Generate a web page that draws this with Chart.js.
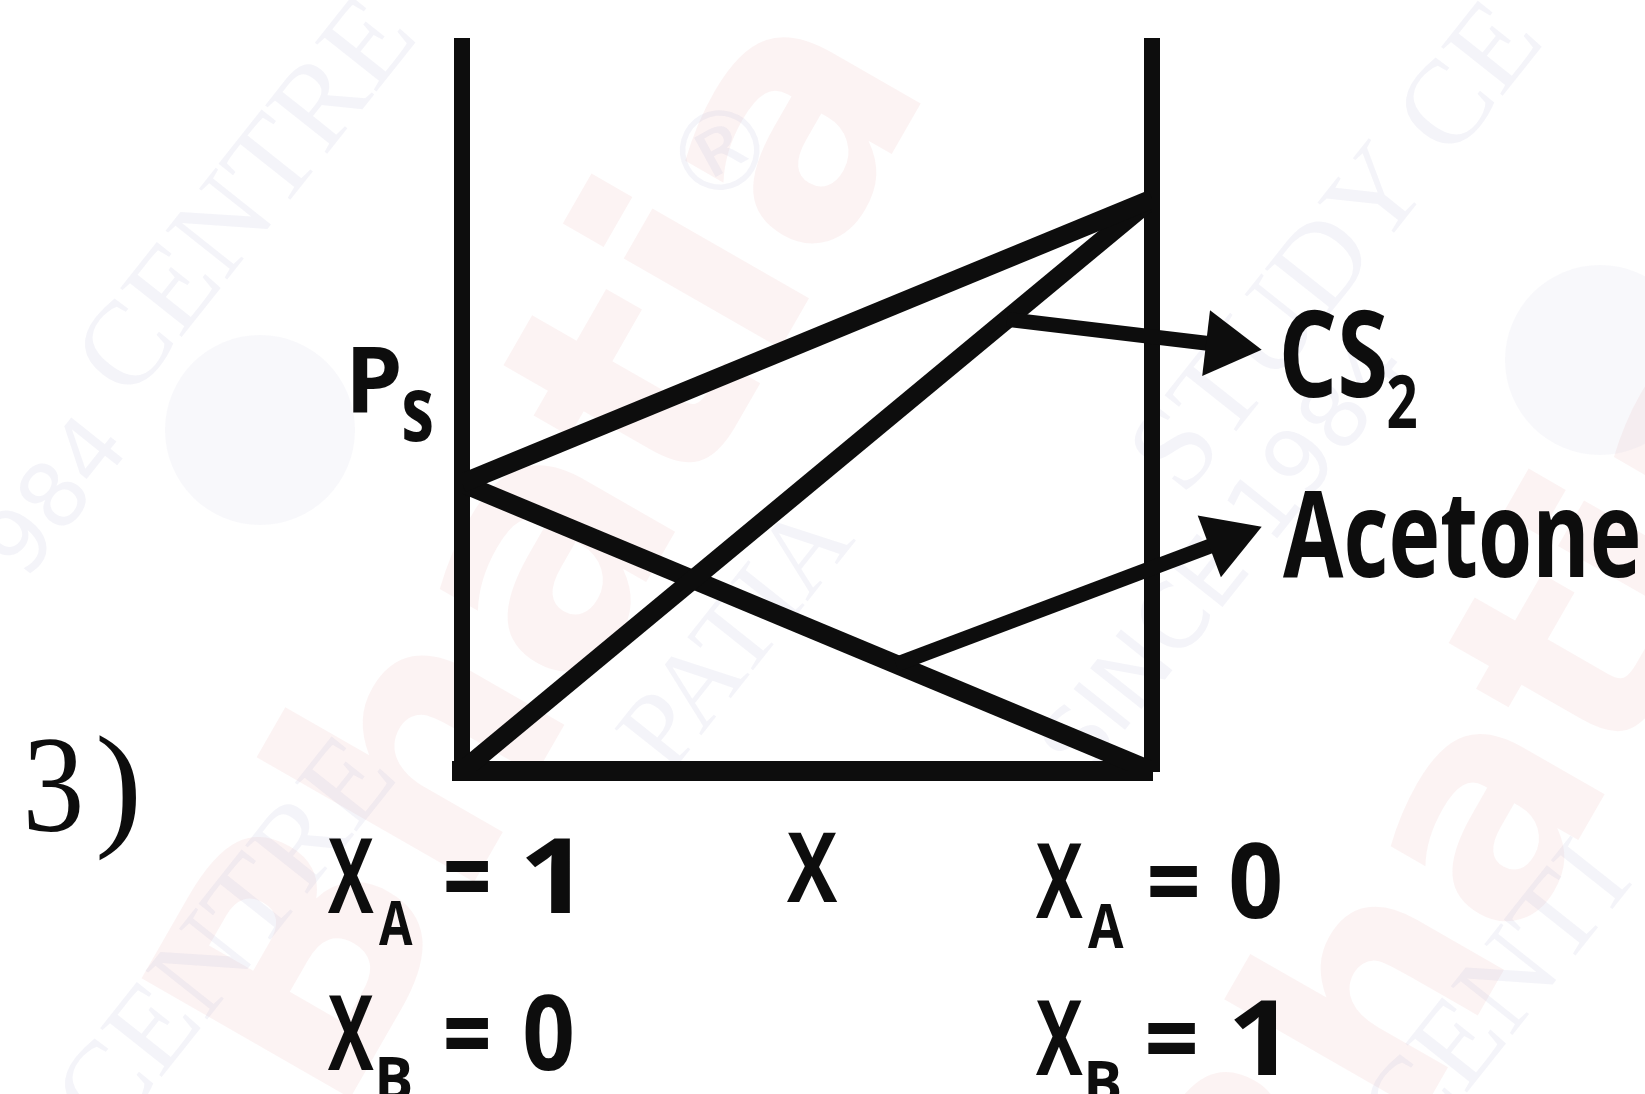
<!DOCTYPE html>
<html>
<head>
<meta charset="utf-8">
<script src="https://cdn.jsdelivr.net/npm/chart.js@4"></script>
<style>
  html, body { margin: 0; padding: 0; background: #fff; }
  canvas { display: block; }
</style>
</head>
<body>
<canvas id="vpChart" width="1645" height="1094"></canvas>
<script>
// mole fraction of B (CS2) along the x axis: X_A = 1 on the left, X_A = 0 on the right
const xB = [0, 1];
// vapour pressures (arbitrary units) at the two ends
const totalP = [39.7, 78.9];
const cs2P = [0, 78.9];
const acetoneP = [39.7, 0];

// arrow annotations: start on a line, tip next to the label
const arrowFrom = [[0.790, 62.3], [0.629, 14.7]];
const arrowTo = [[1.159, 58.1], [1.159, 33.7]];

const INK = '#0d0d0d';

function pts(ys) {
    return xB.map((x, i) => ({ x: x, y: ys[i] }));
}

// draws text so that its ink spans [left, right], sitting on the baseline y
function fitText(ctx, text, left, right, y, font) {
    ctx.save();
    ctx.font = font;
    const m = ctx.measureText(text);
    const ink = m.actualBoundingBoxLeft + m.actualBoundingBoxRight;
    const s = (right - left) / ink;
    ctx.translate(left + m.actualBoundingBoxLeft * s, y);
    ctx.scale(s, 1);
    ctx.fillText(text, 0, 0);
    ctx.restore();
}

const background = {
    id: 'background',
    beforeDraw(chart) {
        const ctx = chart.ctx;
        ctx.save();
        ctx.fillStyle = '#ffffff';
        ctx.fillRect(0, 0, chart.width, chart.height);

        const pink = 'rgba(235, 170, 170, 0.14)';
        const lilac = 'rgba(185, 185, 215, 0.16)';
        // faint stamp behind the diagram
        const marks = [
            ['Bhatia', 560, 560, -1.05, 'bold 330px "DejaVu Sans"', pink],
            ['Bhatia', 1500, 820, -1.05, 'bold 300px "DejaVu Sans"', pink],
            ['CENTRE', 250, 200, -0.9, '120px "Liberation Serif"', lilac],
            ['STUDY CE', 1340, 250, -0.9, '120px "Liberation Serif"', lilac],
            ['SINCE 1984', 1230, 560, -0.9, '90px "DejaVu Sans"', lilac],
            ['PATIA', 740, 640, -0.9, '110px "Liberation Serif"', lilac],
            ['CENTRE', 230, 940, -0.9, '120px "Liberation Serif"', lilac],
            ['CENTI', 1500, 1000, -0.9, '120px "Liberation Serif"', lilac],
            ['984', 60, 500, -0.9, '90px "DejaVu Sans"', lilac],
            ['\u00AE', 725, 160, -0.5, '110px "DejaVu Sans"', lilac]
        ];
        ctx.textAlign = 'center';
        ctx.textBaseline = 'middle';
        marks.forEach(([t, x, y, a, f, c]) => {
            ctx.save();
            ctx.translate(x, y);
            ctx.rotate(a);
            ctx.font = f;
            ctx.fillStyle = c;
            ctx.fillText(t, 0, 0);
            ctx.restore();
        });
        // round seals
        [[260, 430], [1600, 360]].forEach(([x, y]) => {
            ctx.beginPath();
            ctx.arc(x, y, 95, 0, Math.PI * 2);
            ctx.fillStyle = 'rgba(200, 200, 225, 0.13)';
            ctx.fill();
        });
        ctx.restore();
    }
};

const annotations = {
    id: 'annotations',
    afterDatasetsDraw(chart) {
        const ctx = chart.ctx;
        const xs = chart.scales.x;
        const ys = chart.scales.y;
        ctx.save();
        ctx.strokeStyle = INK;
        ctx.fillStyle = INK;
        ctx.lineWidth = 15;
        ctx.lineCap = 'butt';

        // arrows towards the labels
        arrowFrom.forEach((from, i) => {
            const x0 = xs.getPixelForValue(from[0]);
            const y0 = ys.getPixelForValue(from[1]);
            const x1 = xs.getPixelForValue(arrowTo[i][0]);
            const y1 = ys.getPixelForValue(arrowTo[i][1]);
            const ang = Math.atan2(y1 - y0, x1 - x0);
            const head = 56, half = 33;
            const bx = x1 - head * Math.cos(ang);
            const by = y1 - head * Math.sin(ang);
            ctx.beginPath();
            ctx.moveTo(x0, y0);
            ctx.lineTo(bx + 4 * Math.cos(ang), by + 4 * Math.sin(ang));
            ctx.stroke();
            ctx.beginPath();
            ctx.moveTo(x1, y1);
            ctx.lineTo(bx + half * Math.sin(ang), by - half * Math.cos(ang));
            ctx.lineTo(bx - half * Math.sin(ang), by + half * Math.cos(ang));
            ctx.closePath();
            ctx.fill();
        });

        // labels
        ctx.textAlign = 'left';
        ctx.textBaseline = 'alphabetic';
        const sans = (s) => '700 ' + s + 'px "Open Sans"';
        fitText(ctx, 'P', 353, 399, 412, sans(92));
        fitText(ctx, 's', 404, 432, 441, sans(92));

        fitText(ctx, 'CS', 1283, 1385, 397, sans(120));
        fitText(ctx, '2', 1388, 1416, 428, sans(74));
        fitText(ctx, 'Acetone', 1283, 1638, 577, sans(120));

        const serif = '138px "Liberation Serif"';
        fitText(ctx, '3', 28, 80, 831, serif);
        fitText(ctx, ')', 99, 136, 831, serif);

        // X_A = 1, X_B = 0
        fitText(ctx, 'X', 328, 374, 913, sans(104));
        fitText(ctx, 'A', 379, 413, 945, sans(60));
        fitText(ctx, '=', 446, 488, 913, sans(104));
        fitText(ctx, '1', 526, 570, 913, sans(104));
        fitText(ctx, 'X', 328, 374, 1070, sans(104));
        fitText(ctx, 'B', 379, 411, 1101, sans(60));
        fitText(ctx, '=', 446, 488, 1070, sans(104));
        fitText(ctx, '0', 525, 572, 1070, sans(104));

        fitText(ctx, 'X', 787, 838, 902, sans(96));

        // X_A = 0, X_B = 1
        fitText(ctx, 'X', 1036, 1083, 918, sans(104));
        fitText(ctx, 'A', 1088, 1124, 948, sans(60));
        fitText(ctx, '=', 1150, 1197, 918, sans(104));
        fitText(ctx, '0', 1231, 1280, 918, sans(104));
        fitText(ctx, 'X', 1036, 1083, 1075, sans(104));
        fitText(ctx, 'B', 1088, 1120, 1105, sans(60));
        fitText(ctx, '=', 1148, 1195, 1075, sans(104));
        fitText(ctx, '1', 1234, 1276, 1075, sans(104));
        ctx.restore();
    }
};

const lineStyle = {
    borderColor: INK,
    borderWidth: 19,
    pointRadius: 0,
    tension: 0,
    fill: false,
    borderCapStyle: 'butt',
    borderJoinStyle: 'miter'
};

const frameAxis = (position) => ({
    type: 'linear',
    position: position,
    min: 0,
    max: 100,
    grid: { display: false, drawTicks: false },
    ticks: { display: false },
    border: { display: true, color: INK, width: 16 }
});

new Chart(document.getElementById('vpChart').getContext('2d'), {
    type: 'line',
    data: {
        datasets: [
            Object.assign({ label: 'P total', data: pts(totalP) }, lineStyle),
            Object.assign({ label: 'CS2', data: pts(cs2P) }, lineStyle),
            Object.assign({ label: 'Acetone', data: pts(acetoneP) }, lineStyle)
        ]
    },
    options: {
        responsive: false,
        animation: false,
        devicePixelRatio: 1,
        layout: { padding: { left: 462, right: 493, top: 46, bottom: 323 } },
        plugins: {
            legend: { display: false },
            tooltip: { enabled: false }
        },
        scales: {
            x: {
                type: 'linear',
                min: 0,
                max: 1,
                grid: { display: false, drawTicks: false },
                ticks: { display: false },
                border: { display: true, color: INK, width: 20 }
            },
            y: frameAxis('left'),
            y2: frameAxis('right')
        }
    },
    plugins: [background, annotations]
});
</script>
</body>
</html>
